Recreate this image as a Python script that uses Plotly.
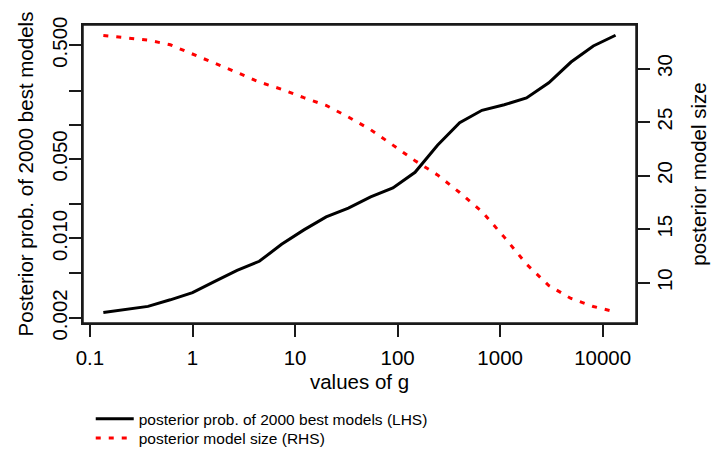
import plotly.graph_objects as go

# values of g (log grid)
g_values = [0.135, 0.223, 0.368, 0.607, 1.0, 1.65, 2.72, 4.48, 7.39, 12.2, 20.1, 33.1,
            54.6, 90.0, 148, 245, 403, 665, 1097, 1808, 2981, 4915, 8103, 13360]
# posterior prob. of 2000 best models (LHS, log scale)
post_prob = [0.00223, 0.00238, 0.00253, 0.00289, 0.00334, 0.00420, 0.00525, 0.00630,
             0.00889, 0.0119, 0.0155, 0.0185, 0.0232, 0.0278, 0.0382, 0.0660,
             0.104, 0.134, 0.150, 0.172, 0.234, 0.356, 0.493, 0.612]
# posterior model size (RHS)
model_size = [33.09, 32.87, 32.66, 32.22, 31.38, 30.51, 29.63, 28.74, 28.07, 27.28,
              26.56, 25.48, 24.29, 22.85, 21.40, 20.07, 18.43, 16.64, 14.26, 11.74,
              9.74, 8.53, 7.78, 7.27]

x_tickvals = [0.1, 1, 10, 100, 1000, 10000]
x_ticktext = ["0.1", "1", "10", "100", "1000", "10000"]
y_tickvals = [0.002, 0.005, 0.01, 0.02, 0.05, 0.1, 0.2, 0.5]
y_ticktext = ["0.002", "", "0.010", "", "0.050", "", "", "0.500"]
y2_tickvals = [10, 15, 20, 25, 30]
y2_ticktext = ["10", "15", "20", "25", "30"]

FONT = "Liberation Sans, Arial, sans-serif"
AX = "#1a1a1a"

fig = go.Figure()
fig.add_trace(go.Scatter(x=g_values, y=post_prob, mode="lines",
                         name="posterior prob. of 2000 best models (LHS)",
                         line=dict(color="black", width=3), yaxis="y", legend="legend"))
fig.add_trace(go.Scatter(x=g_values, y=model_size, mode="lines",
                         name="posterior model size (RHS)",
                         line=dict(color="#ff0000", width=3, dash="5px,8px"), yaxis="y2",
                         legend="legend2"))

common = dict(showgrid=False, zeroline=False, showline=True, linecolor=AX, linewidth=1.5,
              ticks="outside", ticklen=12, tickwidth=1.5, tickcolor=AX, automargin=False,
              tickfont=dict(family=FONT, size=20.5, color="black"))

leg_common = dict(xanchor="left", yanchor="top", font=dict(family=FONT, size=15.5, color="black"),
                  bgcolor="rgba(0,0,0,0)", itemwidth=38)

fig.update_layout(
    width=716, height=452,
    margin=dict(l=83, r=80, t=25, b=129, autoexpand=False),
    paper_bgcolor="white", plot_bgcolor="white",
    font=dict(family=FONT, color="black"),
    xaxis=dict(type="log", range=[-1.068, 4.325], tickvals=x_tickvals, ticktext=x_ticktext,
               mirror=True, ticklabelstandoff=4,
               title=dict(text="values of g", font=dict(family=FONT, size=20.5), standoff=6),
               **common),
    yaxis=dict(type="log", range=[-2.743, -0.123], tickvals=y_tickvals, ticktext=y_ticktext,
               tickangle=-90, ticklabelstandoff=-6,
               title=dict(text="Posterior prob. of 2000 best models", font=dict(family=FONT, size=20.5), standoff=9),
               **common),
    yaxis2=dict(range=[6.24, 34.07], tickvals=y2_tickvals, ticktext=y2_ticktext,
                overlaying="y", side="right", tickangle=-90, ticklabelstandoff=-2,
                title=dict(text="posterior model size", font=dict(family=FONT, size=20.5), standoff=16),
                **common),
    showlegend=True,
    legend=dict(x=0.014, y=-0.266, **leg_common),
    legend2=dict(x=0.014, y=-0.330, **leg_common),
    shapes=[dict(type="rect", xref="paper", yref="paper", x0=0, x1=1, y0=0, y1=1,
                 line=dict(color=AX, width=1.5), fillcolor="rgba(0,0,0,0)", layer="above")],
)

fig.write_html("out.html")
